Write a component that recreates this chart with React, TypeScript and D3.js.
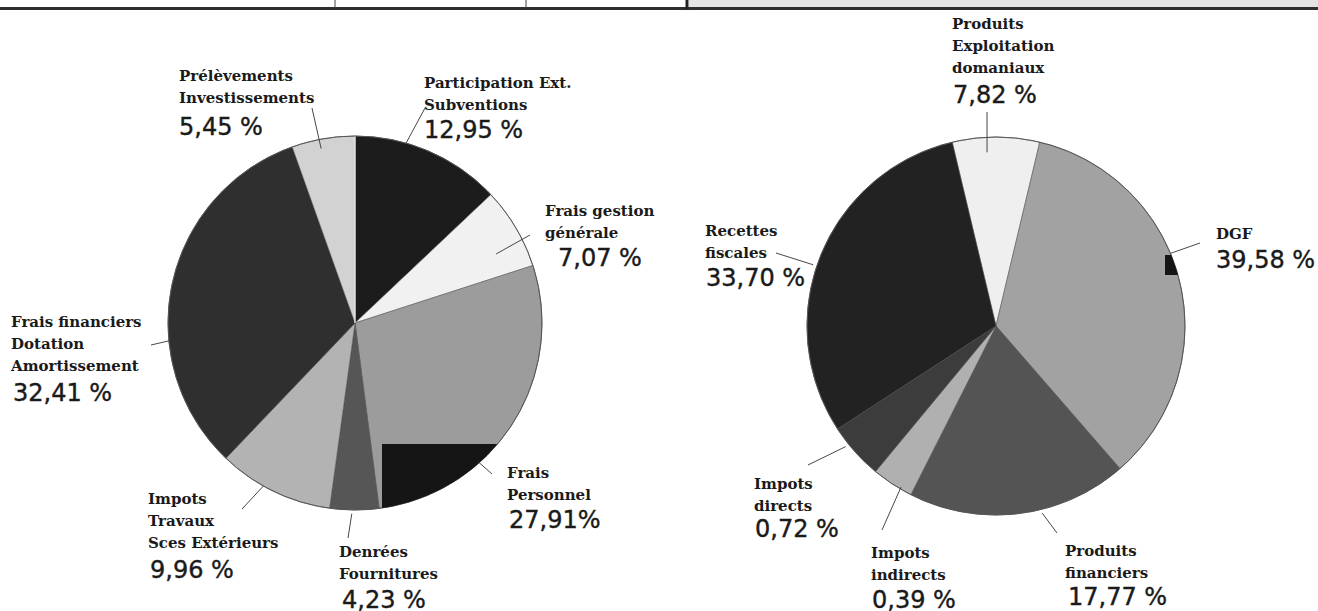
import React from 'react';
import * as d3 from 'd3';

// left pie : dépenses (values as printed, clockwise from 12 o'clock)
const leftCategories = [
  'Participation Ext.|Subventions',
  'Frais gestion|générale',
  'Frais|Personnel',
  'Denrées|Fournitures',
  'Impots|Travaux|Sces Extérieurs',
  'Frais financiers|Dotation|Amortissement',
  'Prélèvements|Investissements',
];
const leftValues = [12.95, 7.07, 27.91, 4.23, 9.96, 32.41, 5.45];
const leftShades = ['#1c1c1c', '#f1f1f1', '#9c9c9c', '#565656', '#b3b3b3', '#2f2f2f', '#d2d2d2'];

// right pie : recettes
const rightCategories = [
  'Produits|Exploitation|domaniaux',
  'DGF',
  'Produits|financiers',
  'Impots|indirects',
  'Impots|directs',
  'Recettes|fiscales',
];
const rightValues = [7.82, 39.58, 17.77, 0.39, 0.72, 33.7];
// the slices in the picture are not drawn to the printed figures, these are the drawn shares
const rightDrawnShares = [7.44, 34.89, 18.83, 3.56, 4.83, 30.44];
const rightShades = ['#efefef', '#a2a2a2', '#545454', '#b0b0b0', '#3c3c3c', '#222222'];

// label placement (x, first baseline, percent x, percent baseline, leader: fraction in slice, radius factor, outer end)
const leftLayout = [
  { x: 424, y: 88, px: 424, py: 138, f: 0.34, rf: 1.0, ox: 425, oy: 108 },
  { x: 545, y: 216, px: 558, py: 266, f: 0.68, rf: 0.84, ox: 530, oy: 235 },
  { x: 507, y: 478, px: 509, py: 528, f: 0.66, rf: 0.99, ox: 492, oy: 474, tight: true },
  { x: 339, y: 557, px: 342, py: 608, f: 0.55, rf: 1.02, ox: 348, oy: 538 },
  { x: 148, y: 504, px: 150, py: 578, f: 0.6, rf: 1.0, ox: 242, oy: 509 },
  { x: 11, y: 327, px: 13, py: 401, f: 0.35, rf: 1.0, ox: 151, oy: 345 },
  { x: 179, y: 81, px: 179, py: 135, f: 0.44, rf: 0.95, ox: 312, oy: 108 },
];
const rightLayout = [
  { x: 952, y: 29, px: 953, py: 103, f: 0.39, rf: 0.92, ox: 987, oy: 112 },
  { x: 1216, y: 239, px: 1216, py: 268, f: 0.43, rf: 1.0, ox: 1200, oy: 243 },
  { x: 1065, y: 556, px: 1068, py: 605, f: 0.4, rf: 1.02, ox: 1057, oy: 533 },
  { x: 871, y: 558, px: 872, py: 608, f: 0.29, rf: 0.99, ox: 882, oy: 530 },
  { x: 754, y: 489, px: 755, py: 537, f: 0.67, rf: 1.02, ox: 808, oy: 465 },
  { x: 705, y: 236, px: 706, py: 286, f: 0.47, rf: 1.02, ox: 776, oy: 253 },
];

const W = 1318;
const H = 611;
const labelFont = '"DejaVu Serif", serif';
const pctFont = '"DejaVu Sans", sans-serif';
const rad = (deg: number) => (deg * Math.PI) / 180;

const fmt = (v: number, tight?: boolean) => v.toFixed(2).replace('.', ',') + (tight ? '%' : ' %');

function Pie({ id, cx, cy, r, start, shares, values, cats, shades, layout, patch, seam }: any) {
  const pie = d3.pie<number>().sort(null).value(d => d).startAngle(rad(start)).endAngle(rad(start) + 2 * Math.PI);
  const arcs = pie(shares);
  const arc = d3.arc<d3.PieArcDatum<number>>().innerRadius(0).outerRadius(r);

  return (
    <g>
      <defs>
        <clipPath id={id}>
          <circle cx={cx} cy={cy} r={r} />
        </clipPath>
      </defs>
      <g transform={`translate(${cx},${cy})`}>
        {arcs.map((a, i) => (
          <path key={i} d={arc(a) || ''} fill={shades[i]} stroke="#4a4a4a" strokeWidth={0.5} />
        ))}
        {seam && <line x1={0} y1={0} x2={0} y2={-r} stroke="#ffffff" strokeWidth={1.2} />}
        <circle r={r} fill="none" stroke="#555" strokeWidth={1} />
      </g>
      {patch && (
        <rect x={patch[0]} y={patch[1]} width={patch[2]} height={patch[3]} fill="#151515" clipPath={`url(#${id})`} />
      )}
      {arcs.map((a, i) => {
        const L = layout[i];
        const ang = a.startAngle + L.f * (a.endAngle - a.startAngle);
        const ax = cx + Math.sin(ang) * r * L.rf;
        const ay = cy - Math.cos(ang) * r * L.rf;
        const lines = cats[i].split('|');
        return (
          <g key={'l' + i}>
            <line x1={ax} y1={ay} x2={L.ox} y2={L.oy} stroke="#333" strokeWidth={0.9} />
            <text x={L.x} y={L.y} fontFamily={labelFont} fontWeight="bold" fontSize={15} fill="#1a1a1a">
              {lines.map((t: string, k: number) => (
                <tspan key={k} x={L.x} dy={k === 0 ? 0 : 22}>{t}</tspan>
              ))}
            </text>
            <text x={L.px} y={L.py} fontFamily={pctFont} fontSize={24} fill="#1a1a1a" stroke="#1a1a1a" strokeWidth={0.4}>
              {fmt(values[i], L.tight)}
            </text>
          </g>
        );
      })}
    </g>
  );
}

export default function App() {
  return (
    <svg width={W} height={H} style={{ position: 'absolute', left: 0, top: 0, background: '#fff' }}>
      {/* page frame left over at the top of the scan */}
      <rect x={689} y={0} width={W - 689} height={7} fill="#e4e4e4" />
      <line x1={0} x2={W} y1={8.5} y2={8.5} stroke="#2e2e2e" strokeWidth={3} />
      <line x1={335} x2={335} y1={0} y2={8} stroke="#444" strokeWidth={1} />
      <line x1={526} x2={526} y1={0} y2={8} stroke="#444" strokeWidth={1} />
      <line x1={687} x2={687} y1={0} y2={9} stroke="#222" strokeWidth={3} />

      <Pie id="clipLeft" cx={355} cy={323} r={187} start={0} shares={leftValues} values={leftValues}
        cats={leftCategories} shades={leftShades} layout={leftLayout} patch={[382, 444, 200, 120]} seam />
      <Pie id="clipRight" cx={996} cy={326} r={189} start={-13.4} shares={rightDrawnShares} values={rightValues}
        cats={rightCategories} shades={rightShades} layout={rightLayout} patch={[1165, 255, 40, 20]} />
    </svg>
  );
}
